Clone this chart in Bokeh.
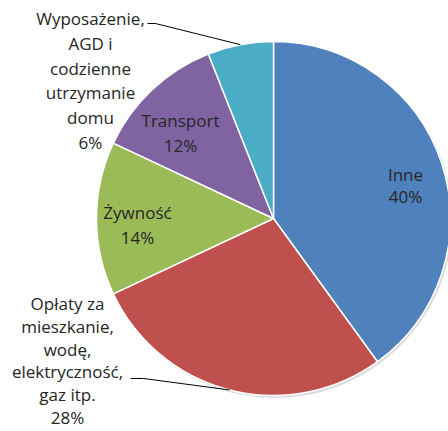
import math
from bokeh.plotting import figure
from bokeh.models import Range1d, ColumnDataSource
from bokeh.core.properties import value
from bokeh.embed import file_html
from bokeh.resources import INLINE

# ---- data ----
categories = ["Inne",
              "Opłaty za mieszkanie, wodę, elektryczność, gaz itp.",
              "Żywność",
              "Transport",
              "Wyposażenie, AGD i codzienne utrzymanie domu"]
shares = [40, 28, 14, 12, 6]
label_lines = [["Inne"],
               ["Opłaty za", "mieszkanie,", "wodę,", "elektryczność,", "gaz itp."],
               ["Żywność"],
               ["Transport"],
               ["Wyposażenie,", "AGD i", "codzienne", "utrzymanie", "domu"]]
colors = ["#4F81BD", "#C0504D", "#9BBB59", "#8064A2", "#4BACC6"]

# ---- layout (image pixel coordinates) ----
W, H = 448, 431
CX, CY, R = 273, 218, 177
label_cx = [405, 67, 137, 180, 90]
label_cy = [185, 360, 224.5, 132.5, 80]
line_step = [22, 22.8, 25, 25, 24.8]
leader_start = [None, (130, 378), None, None, (147, 23)]
leader_knee = [None, (143, 378), None, None, (155, 23)]


def Y(y_img):
    return H - y_img


p = figure(width=W, height=H, output_backend="svg", toolbar_location=None,
           x_range=Range1d(0, W), y_range=Range1d(0, H),
           min_border=0, outline_line_color=None)
p.axis.visible = False
p.grid.visible = False
p.background_fill_color = "white"
p.border_fill_color = "white"

total = sum(shares)
starts, ends, mids = [], [], []
cum = 0.0
for s in shares:
    a0 = cum / total
    cum += s
    a1 = cum / total
    starts.append(math.pi / 2 - a0 * 2 * math.pi)
    ends.append(math.pi / 2 - a1 * 2 * math.pi)
    mids.append((a0 + a1) / 2 * 2 * math.pi)

# faint shadow
p.circle(x=[CX + 1.5], y=[Y(CY) - 2], radius=R + 0.5, fill_color="#9a9a9a",
         fill_alpha=0.35, line_color=None)

src = ColumnDataSource(dict(start=starts, end=ends, color=colors, name=categories))
p.wedge(x=CX, y=Y(CY), radius=R, start_angle="start", end_angle="end",
        direction="clock", fill_color="color", line_color="white", line_width=1.5,
        source=src)

# leader lines for outside labels
for i in range(len(shares)):
    if leader_start[i] is None:
        continue
    ex = CX + R * math.sin(mids[i])
    ey = CY - R * math.cos(mids[i])
    xs = [leader_start[i][0], leader_knee[i][0], ex]
    ys = [Y(leader_start[i][1]), Y(leader_knee[i][1]), Y(ey)]
    p.line(xs, ys, line_color="#000000", line_width=1)

# labels
tx, ty, tt = [], [], []
for i in range(len(shares)):
    lines = label_lines[i] + [f"{shares[i]}%"]
    n = len(lines)
    for k, t in enumerate(lines):
        tx.append(label_cx[i])
        ty.append(Y(label_cy[i] + (k - (n - 1) / 2) * line_step[i]))
        tt.append(t)
p.text(x=tx, y=ty, text=tt, text_align="center", text_baseline="middle",
       text_font=value("Open Sans"), text_font_size="17px", text_color="#262626")

open("out.html", "w").write(file_html(p, INLINE))
